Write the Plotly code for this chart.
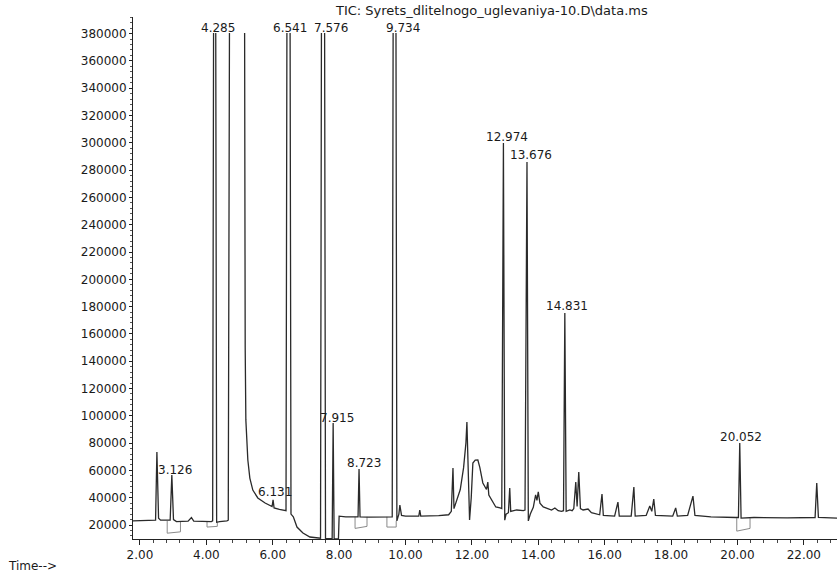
import plotly.graph_objects as go

# ---- data ----
time_min = [
    1.79, 2.45, 2.47, 2.51, 2.56, 2.62, 2.88, 2.91, 2.96, 3.01, 3.10, 3.45, 3.55, 3.62, 4.15,
    4.19, 4.22, 4.28, 4.31, 4.40, 4.62, 4.66, 4.70, 5.15, 5.17, 5.19, 5.25, 5.31, 5.40, 5.55,
    5.77, 5.95, 5.98, 6.01, 6.04, 6.20, 6.40, 6.43, 6.52, 6.55, 6.62, 6.73, 6.91, 7.12, 7.36,
    7.44, 7.47, 7.56, 7.59, 7.70, 7.79, 7.82, 7.85, 7.98, 8.00, 8.20, 8.57, 8.60, 8.63, 8.90,
    9.30, 9.60, 9.63, 9.71, 9.74, 9.80, 9.83, 9.88, 10.00, 10.40, 10.43, 10.46, 11.00, 11.30,
    11.38, 11.43, 11.46, 11.55, 11.65, 11.75, 11.82, 11.85, 11.88, 11.93, 11.98, 12.03, 12.10,
    12.18, 12.24, 12.33, 12.44, 12.48, 12.51, 12.60, 12.72, 12.85, 12.90, 12.95, 12.99, 13.03,
    13.10, 13.14, 13.17, 13.35, 13.55, 13.60, 13.66, 13.70, 13.76, 13.85, 13.92, 13.96, 14.00,
    14.05, 14.15, 14.40, 14.50, 14.60, 14.70, 14.76, 14.80, 14.84, 14.95, 15.02, 15.07, 15.13,
    15.17, 15.22, 15.27, 15.35, 15.50, 15.60, 15.85, 15.92, 15.96, 16.30, 16.40, 16.44, 16.80,
    16.88, 16.92, 17.25, 17.36, 17.42, 17.48, 17.53, 18.05, 18.14, 18.19, 18.50, 18.58, 18.66,
    18.72, 19.20, 19.95, 20.03, 20.07, 20.11, 20.50, 21.50, 22.34, 22.39, 22.44, 23.00,
]
abundance = [
    23000, 23200, 23500, 73500, 25000, 23500, 23200, 23500, 56600, 24000, 22500, 22800, 25500, 22800, 22500,
    23000, 420000, 420000, 22000, 22500, 23000, 23500, 420000, 420000, 150000, 97000, 67600, 54400, 45600, 39800,
    36100, 33900, 33500, 38500, 32500, 31500, 30500, 420000, 420000, 28000, 26000, 18500, 14100, 11200, 10500,
    10300, 420000, 420000, 10000, 9900, 10000, 94700, 10000, 9900, 26500, 26000, 26000, 61000, 26000, 25800,
    26000, 26000, 420000, 420000, 23000, 28000, 34600, 27000, 26500, 26500, 31000, 26500, 26800, 27500,
    30000, 61800, 32000, 38000, 46000, 62000, 80000, 95500, 60000, 23700, 40000, 65400, 67500,
    67600, 62000, 50800, 46000, 51500, 42000, 38300, 33200, 32500, 32000, 299800, 23500, 28000,
    29000, 47100, 30000, 31000, 30500, 31000, 285900, 23000, 28000, 33000, 42000, 38000, 44200,
    36000, 33200, 31000, 32500, 30500, 30000, 30500, 175300, 30000, 31000, 30500, 32000, 51500,
    33500, 58800, 32000, 31000, 31700, 29000, 27500, 42700, 27000, 26500, 36800, 26500, 26500,
    47800, 26500, 27000, 33900, 30000, 39000, 27000, 26500, 32500, 26500, 27000, 33500, 41200,
    27000, 26000, 25500, 25500, 80100, 25000, 25500, 25200, 25500, 50800, 25500, 25000,
]

# integration baseline markers (grey boxes under some peaks)
integ_time = [2.82, 2.82, 3.22, 3.22, None, 4.02, 4.02, 4.33, 4.33, None,
              8.48, 8.48, 8.84, 8.84, None, 9.44, 9.44, 9.72, 9.72, None,
              19.98, 19.98, 20.38, 20.38]
integ_abund = [23000, 14000, 15000, 22500, None, 22500, 18500, 19000, 22000, None,
               26000, 17500, 19000, 26000, None, 26000, 18500, 18500, 23000, None,
               25000, 15500, 17500, 25000]

# peak labels: text, label centre time, label height
label_text = ["3.126", "4.285", "6.541", "7.576", "9.734", "6.131", "7.915", "8.723",
              "12.974", "13.676", "14.831", "20.052"]
label_time = [3.05, 4.35, 6.52, 7.76, 9.92, 6.07, 7.93, 8.75, 13.05, 13.78, 14.86, 20.10]
label_abund = [60300, 384400, 384400, 384400, 384400, 44180, 98390, 65420,
               304250, 291060, 180440, 84470]

y_ticks = list(range(20000, 380001, 20000))
x_ticks = list(range(2, 23, 2))

title_text = "TIC: Syrets_dlitelnogo_uglevaniya-10.D\\data.ms"

FONT = "DejaVu Sans"
INK = "#1a1a1a"
Y_MIN, Y_MAX = 9744, 392170
CLIP_LEVEL = 380500   # off-scale peaks end just under the top labels

fig = go.Figure()
fig.add_trace(go.Scatter(x=integ_time, y=integ_abund, mode="lines",
                         line=dict(color="#8a8a8a", width=1), hoverinfo="skip",
                         showlegend=False, connectgaps=False))
fig.add_trace(go.Scatter(x=time_min, y=abundance, mode="lines",
                         line=dict(color="#2a2a2a", width=1.3), showlegend=False))

# white band hiding the tops of the off-scale peaks (as on the printout)
fig.add_shape(type="rect", xref="paper", yref="y", x0=0.003, x1=1.0,
              y0=CLIP_LEVEL, y1=Y_MAX, fillcolor="white", line=dict(width=0), layer="above")

for t, x, y in zip(label_text, label_time, label_abund):
    fig.add_annotation(x=x, y=y, text=t, showarrow=False, xanchor="center", yanchor="middle",
                       font=dict(family=FONT, size=12, color=INK))

fig.add_annotation(x=(333 - 133) / (837 - 133), y=1.0 + (17 - 11) / (539 - 17),
                   xref="paper", yref="paper", text=title_text, showarrow=False,
                   xanchor="left", yanchor="middle",
                   font=dict(family=FONT, size=13, color=INK))
fig.add_annotation(x=-(133 - 33) / (837 - 133), y=-(566 - 539) / (539 - 17),
                   xref="paper", yref="paper", text="Time-->", showarrow=False,
                   xanchor="center", yanchor="middle",
                   font=dict(family=FONT, size=12, color=INK))

fig.update_layout(
    width=837, height=574,
    margin=dict(l=133, r=0, t=17, b=35),
    paper_bgcolor="white", plot_bgcolor="white",
    font=dict(family=FONT, size=12, color=INK),
    xaxis=dict(range=[1.79, 23.0], tickvals=x_ticks, ticktext=[f"{v:.2f}" for v in x_ticks],
               showgrid=False, zeroline=False, showline=True, linecolor="#222", linewidth=1,
               ticks="outside", ticklen=5, tickcolor="#222",
               minor=dict(dtick=0.4, tick0=2, ticks="outside", ticklen=3, tickcolor="#444", showgrid=False),
               tickfont=dict(family=FONT, size=12, color=INK)),
    yaxis=dict(range=[Y_MIN, Y_MAX], tickvals=y_ticks, ticktext=[str(v) for v in y_ticks],
               showgrid=False, zeroline=False, showline=True, linecolor="#222", linewidth=1,
               ticks="outside", ticklen=3, tickcolor="#222",
               minor=dict(dtick=4000, tick0=0, ticks="outside", ticklen=2, tickcolor="#555", showgrid=False),
               tickfont=dict(family=FONT, size=12, color=INK)),
)

fig.write_html("out.html")
